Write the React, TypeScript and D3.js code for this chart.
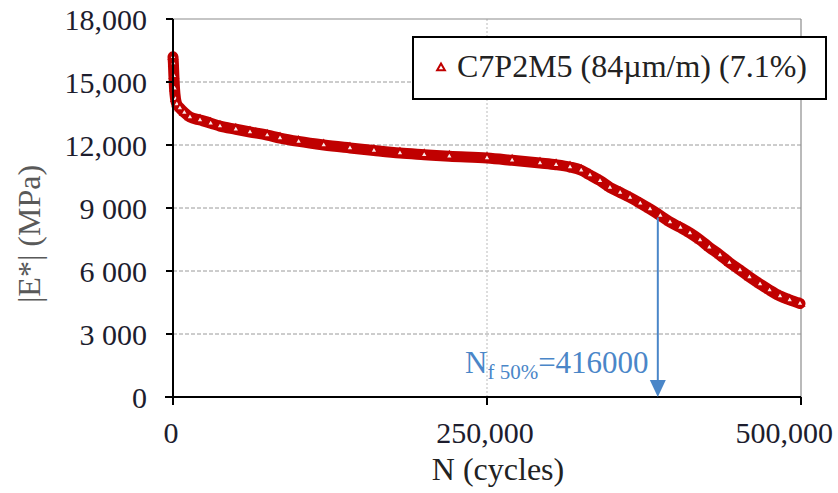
import React from "react";
import * as d3 from "d3";

// |E*| modulus vs number of cycles
const cycles = [0, 300, 700, 1200, 2000, 3000, 5500, 9000, 13500, 21500, 30000, 37400, 50000, 61300, 75000, 85200, 100000, 120000, 140900, 160000, 180700, 200000, 220000, 250000, 270000, 292200, 305000, 316100, 325000, 332000, 340000, 347900, 356000, 363900, 372000, 379800, 388000, 395700, 404000, 411600, 419600, 427000, 435500, 443000, 451400, 459000, 467400, 475000, 483300, 491000, 499200];
const modulus = [16200, 15900, 15300, 14700, 14200, 13950, 13760, 13550, 13330, 13190, 13040, 12900, 12750, 12620, 12470, 12330, 12170, 12000, 11860, 11740, 11620, 11540, 11460, 11380, 11270, 11140, 11060, 10950, 10800, 10570, 10300, 9980, 9740, 9500, 9230, 8950, 8640, 8330, 8070, 7810, 7480, 7130, 6760, 6400, 6050, 5710, 5380, 5090, 4810, 4620, 4450];

const yTicks = [0, 3000, 6000, 9000, 12000, 15000, 18000];
const yTickLabels = ["0", "3 000", "6 000", "9 000", "12,000", "15,000", "18,000"];
const xTicks = [0, 250000, 500000];
const xTickLabels = ["0", "250,000", "500,000"];

const seriesName = "C7P2M5 (84µm/m) (7.1%)";
const arrowN = 386000; // where the arrow is drawn
const arrowTopE = 8550;
const arrowLabel = "=416000";

const W = 838;
const H = 493;
const RED = "#c00000";
const BLUE = "#4a86c8";
const FONT = '"Liberation Serif"';

export default function App() {
  const x = d3.scaleLinear().domain([0, 500000]).range([173, 801]);
  const y = d3.scaleLinear().domain([0, 18000]).range([397, 19]);

  const pts = cycles.map((c, i) => [c, modulus[i]] as [number, number]);
  const line = d3
    .line<[number, number]>()
    .x((d) => x(d[0]))
    .y((d) => y(d[1]))
    .curve(d3.curveMonotoneX);
  const tri = d3.symbol().type(d3.symbolTriangle).size(26)();
  const legendTri = d3.symbol().type(d3.symbolTriangle).size(26)();

  const ax = x(arrowN);
  const txt = { fontFamily: FONT };
  const at = (tx: number, ty: number) => `translate(${tx},${ty}) rotate(0.01)`;

  return (
    <svg width={W} height={H} style={{ position: "absolute", left: 0, top: 0, background: "#fff" }}>
      {/* grid */}
      {yTicks.filter((t) => t > 0 && t < 18000).map((t) => (
        <line key={t} x1={x(0)} x2={x(500000)} y1={y(t)} y2={y(t)} stroke="#9a9a9a" strokeWidth={1} strokeDasharray="4,2" />
      ))}
      <line x1={x(250000)} x2={x(250000)} y1={y(18000)} y2={y(0)} stroke="#bbb" strokeWidth={1} strokeDasharray="2,2" />
      {/* frame */}
      <line x1={x(0)} x2={x(500000)} y1={y(18000)} y2={y(18000)} stroke="#8c8c8c" strokeWidth={1.2} />
      <line x1={x(500000)} x2={x(500000)} y1={y(18000)} y2={y(0)} stroke="#8c8c8c" strokeWidth={1.2} />

      {/* series */}
      <path d={line(pts) || ""} fill="none" stroke={RED} strokeWidth={11} strokeLinejoin="round" strokeLinecap="round" />
      {pts.map((p, i) => (
        <path key={i} d={tri || ""} transform={`translate(${x(p[0])},${y(p[1])})`} fill="#fbeaea" stroke={RED} strokeWidth={2} />
      ))}

      {/* axes */}
      <line x1={x(0)} x2={x(0)} y1={y(18000)} y2={y(0) + 8} stroke="#000" strokeWidth={2} />
      <line x1={x(0) - 8} x2={x(500000)} y1={y(0)} y2={y(0)} stroke="#000" strokeWidth={2} />
      {yTicks.map((t, i) => (
        <g key={t}>
          <line x1={x(0) - 7} x2={x(0)} y1={y(t)} y2={y(t)} stroke="#000" strokeWidth={2} />
          <text transform={at(147, y(t) + 11)} textAnchor="end" fontSize={30} fill="#1d1d2e" style={txt}>
            {yTickLabels[i]}
          </text>
        </g>
      ))}
      {xTicks.map((t, i) => (
        <g key={t}>
          <line x1={x(t)} x2={x(t)} y1={y(0)} y2={y(0) + 8} stroke="#000" strokeWidth={2} />
          <text transform={at(i === 2 ? 833 : x(t) - 2, 443)} textAnchor={i === 2 ? "end" : "middle"} fontSize={30} fill="#1d1d2e" style={txt}>
            {xTickLabels[i]}
          </text>
        </g>
      ))}
      <text transform={at(498, 480)} textAnchor="middle" fontSize={32} fill="#222" style={txt}>
        N (cycles)
      </text>
      <text transform="translate(40,234) rotate(-90)" textAnchor="middle" fontSize={32} fill="#595959" style={txt}>
        |E*| (MPa)
      </text>

      {/* annotation arrow */}
      <line x1={ax} x2={ax} y1={y(arrowTopE)} y2={y(0) - 16} stroke={BLUE} strokeWidth={2} />
      <path d={`M${ax - 8},${y(0) - 17} L${ax + 8},${y(0) - 17} L${ax},${y(0)} Z`} fill={BLUE} />
      <text transform={at(465, 373)} fill={BLUE} fontSize={31} style={txt}>
        N
        <tspan fontSize={21} dy={6}>f 50%</tspan>
        <tspan fontSize={31} dy={-6}>{arrowLabel}</tspan>
      </text>

      {/* legend */}
      <rect x={413} y={37} width={413} height={62} fill="#fff" stroke="#000" strokeWidth={2} />
      <path d={legendTri || ""} transform="translate(441,68)" fill="#fff" stroke={RED} strokeWidth={2} />
      <text transform={at(457, 77)} fontSize={32} fill="#222" style={txt}>
        {seriesName}
      </text>
    </svg>
  );
}
